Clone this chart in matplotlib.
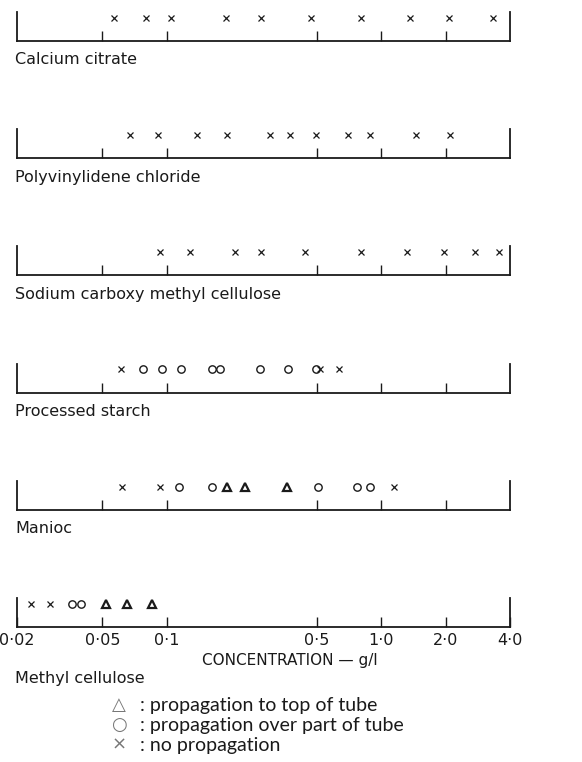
import matplotlib.pyplot as plt
import numpy as np

# concentrations (g/l), one list per marker kind and substance
substances = ['Calcium citrate', 'Polyvinylidene chloride',
              'Sodium carboxy methyl cellulose', 'Processed starch',
              'Manioc', 'Methyl cellulose']

no_prop = [
    [0.057, 0.080, 0.105, 0.19, 0.275, 0.47, 0.81, 1.36, 2.07, 3.34],
    [0.0675, 0.091, 0.139, 0.192, 0.303, 0.375, 0.495, 0.70, 0.89, 1.45, 2.09],
    [0.093, 0.129, 0.209, 0.275, 0.44, 0.81, 1.32, 1.96, 2.75, 3.56],
    [0.061, 0.52, 0.64],
    [0.062, 0.093, 1.15],
    [0.0232, 0.0284],
]
part_prop = [
    [], [], [],
    [0.0775, 0.095, 0.117, 0.162, 0.178, 0.272, 0.367, 0.495],
    [0.114, 0.163, 0.51, 0.774, 0.89],
    [0.0363, 0.0396],
]
top_prop = [
    [], [], [], [],
    [0.192, 0.232, 0.363],
    [0.0522, 0.0653, 0.0852],
]

tick_values = [0.02, 0.05, 0.1, 0.5, 1.0, 2.0, 4.0]
tick_labels = ['0·02', '0·05', '0·1', '0·5', '1·0', '2·0', '4·0']

W, H = 582, 762
fig = plt.figure(figsize=(W / 100, H / 100), dpi=100)
ink = '#1a1a1a'

x0, x1 = 17, 510
row_h = 29
for i, name in enumerate(substances):
    base = 41 + 117.2 * i
    ax = fig.add_axes([x0 / W, 1 - base / H, (x1 - x0) / W, row_h / H])
    ax.set_xscale('log')
    ax.set_xlim(tick_values[0], tick_values[-1])
    ax.set_ylim(0, 1)
    ax.patch.set_alpha(0)
    ax.spines['top'].set_visible(False)
    for s in ['left', 'right', 'bottom']:
        ax.spines[s].set_linewidth(1.3)
        ax.spines[s].set_color(ink)
    ax.set_yticks([])
    ax.xaxis.set_minor_locator(plt.NullLocator())
    ax.set_xticks(tick_values[1:-1])
    ax.tick_params(axis='x', direction='in', length=7, width=1.0, color=ink)
    ax.set_xticklabels([])

    y = 0.8
    ax.plot(no_prop[i], [y] * len(no_prop[i]), ls='none', marker='x',
            ms=4.6, mew=0.9, color=ink)
    ax.plot(part_prop[i], [y] * len(part_prop[i]), ls='none', marker='o',
            ms=5.3, mew=1.0, mfc='none', mec=ink)
    ax.plot(top_prop[i], [y] * len(top_prop[i]), ls='none', marker='^',
            ms=5.3, mew=1.6, mfc='none', mec=ink)

    if i == len(substances) - 1:
        ax.set_xticks(tick_values)
        ax.set_xticklabels(tick_labels, fontsize=11.5, color=ink)
        ax.tick_params(axis='x', pad=4)
        fig.text(15 / W, 1 - (base + 51) / H, name, fontsize=11.5, color=ink,
                 va='center', ha='left')
    else:
        fig.text(15 / W, 1 - (base + 19) / H, name, fontsize=11.5, color=ink,
                 va='center', ha='left')

fig.text(290 / W, 1 - 660 / H, 'CONCENTRATION — g/l', fontsize=11,
         color=ink, ha='center', va='center')

legend_rows = [('△', 'propagation to top of tube'),
               ('○', 'propagation over part of tube'),
               ('×', 'no propagation')]
for j, (sym, txt) in enumerate(legend_rows):
    yy = 1 - (705 + 20 * j) / H
    fig.text(119 / W, yy, sym, fontsize=13, color='#777777',
             ha='center', va='center', family='DejaVu Sans')
    fig.text(140 / W, yy, ': ' + txt, fontsize=14, color=ink,
             ha='left', va='center', family='Lato')

fig.savefig('out.png', dpi=100, facecolor='white')
